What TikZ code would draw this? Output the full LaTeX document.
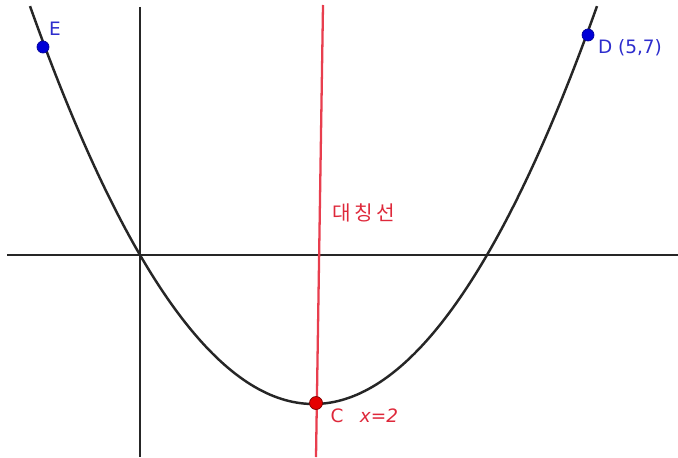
\documentclass[tikz,border=0pt]{standalone}
\usepackage{fontspec}
\setmainfont{DejaVu Sans}
\newfontfamily\krfont{Noto Sans CJK KR}
\usepackage{tikz}
\usetikzlibrary{positioning}
\definecolor{ptBlue}{RGB}{0,0,215}
\definecolor{lblBlue}{RGB}{45,45,205}
\definecolor{axisRed}{RGB}{232,62,78}
\definecolor{lblRed}{RGB}{222,40,58}

\begin{document}
\begin{tikzpicture}[
    x=0.02cm, y=0.02cm,
    axisLine/.style={draw=black!85, line width=1.1pt},
    curveLine/.style={draw=black!85, line width=1.4pt},
    symLine/.style={draw=axisRed, line width=1.3pt},
    bluePt/.style={circle, fill=ptBlue, draw=blue!60!black, inner sep=0pt, minimum size=0.24cm},
    redPt/.style={circle, fill=red!90!black, draw=red!50!black, inner sep=0pt, minimum size=0.26cm},
    blueLbl/.style={text=lblBlue, font=\fontsize{10.5}{12}\selectfont, inner sep=1pt},
    redLbl/.style={text=lblRed, font=\fontsize{10.5}{12}\selectfont, inner sep=1pt}
]
    \useasboundingbox (0,0) rectangle (678,457);

    % Axes
    \coordinate (xl) at (7,202);
    \coordinate (xr) at (678,202);
    \coordinate (yt) at (140,450);
    \coordinate (yb) at (140,0);
    \draw[axisLine] (xl) -- (xr);
    \draw[axisLine] (yt) -- (yb);

    % Parabola
    \draw[curveLine] plot[domain=30:597, samples=150] (\x, {53 + (0.07036*(\x-313.5))^2});

    % Axis of symmetry
    \coordinate (st) at (323,452);
    \coordinate (sb) at (316,0);
    \draw[symLine] (st) -- (sb);
    \node[redLbl, font=\krfont\fontsize{11.5}{13}\selectfont] (symtxt) at (364,244) {대\,칭\,선};

    % Points
    \node[bluePt] (E) at (43,410) {};
    \node[bluePt] (D) at (588,422) {};
    \node[redPt]  (C) at (316,54) {};

    % Labels
    \node[blueLbl] (Elbl) at (55,428) {E};
    \node[blueLbl, anchor=west] (Dlbl) at (596,409) {D (5,7)};
    \node[redLbl] (Clbl) at (337,41) {C};
    \node[redLbl, font=\fontsize{10.5}{12}\selectfont\itshape] (xeq) at (379,41) {x=2};
\end{tikzpicture}
\end{document}
